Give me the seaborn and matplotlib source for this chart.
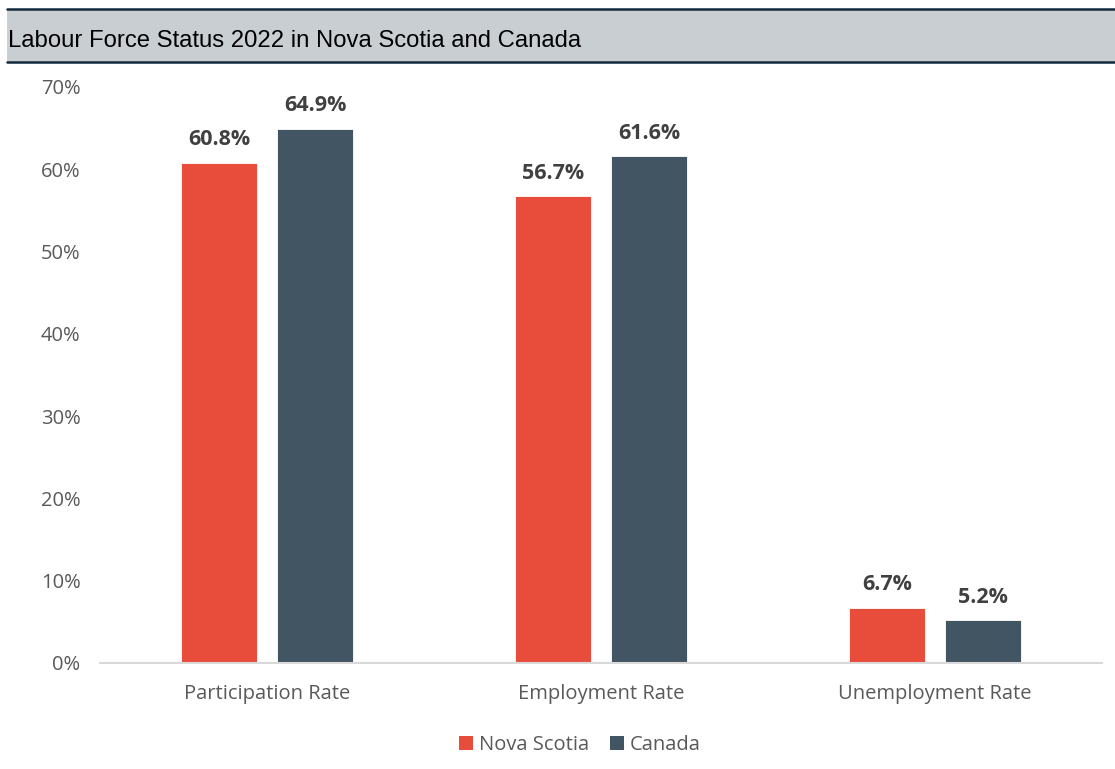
import matplotlib
matplotlib.use("Agg")
import matplotlib.pyplot as plt
from matplotlib.patches import Rectangle, Patch
from matplotlib.lines import Line2D
import pandas as pd
import seaborn as sns

# Labour force rates, 2022 (percent)
categories = ["Participation Rate", "Employment Rate", "Unemployment Rate"]
regions = ["Nova Scotia", "Canada"]
nova_scotia = [60.8, 56.7, 6.7]
canada = [64.9, 61.6, 5.2]
y_ticks = [0, 10, 20, 30, 40, 50, 60, 70]
title = "Labour Force Status 2022 in Nova Scotia and Canada"

palette = {"Nova Scotia": "#E84C3A", "Canada": "#425563"}

df = pd.DataFrame({
    "category": categories * 2,
    "region": [regions[0]] * 3 + [regions[1]] * 3,
    "value": nova_scotia + canada,
})

sns.set_theme(style="white")
plt.rcParams["font.family"] = ["Open Sans", "DejaVu Sans"]

W, H = 1115, 769
fig = plt.figure(figsize=(W / 100, H / 100), dpi=100)
ax = fig.add_axes([100 / W, 1 - 663 / H, 1002 / W, (663 - 87) / H])

sns.barplot(data=df, x="category", y="value", hue="region", order=categories,
            hue_order=regions, palette=palette, width=0.575, gap=0.21,
            saturation=1, errorbar=None, ax=ax, legend=False,
            edgecolor="white", linewidth=0.6)

for cont in ax.containers:
    ax.bar_label(cont, fmt="%.1f%%", padding=9, fontsize=15.5,
                 fontweight="bold", color="#404040")

ax.set_xlim(-0.5, 2.5)
ax.set_ylim(0, 70)
ax.set_yticks(y_ticks)
ax.set_yticklabels([f"{t}%" for t in y_ticks])
ax.set_xlabel("")
ax.set_ylabel("")
for s in ["top", "right", "left"]:
    ax.spines[s].set_visible(False)
ax.spines["bottom"].set_color("#D9D9D9")
ax.spines["bottom"].set_linewidth(1.5)
ax.tick_params(axis="y", length=0, pad=14, labelsize=14.5, labelcolor="#595959")
ax.tick_params(axis="x", length=0, pad=15, labelsize=14.5, labelcolor="#595959")
ax.grid(False)

# Title band
band_x0 = 7 / W
fig.add_artist(Rectangle((band_x0, 1 - 62 / H), 1 - band_x0, 53 / H,
                         transform=fig.transFigure, facecolor="#C9CED3",
                         edgecolor="none", zorder=0))
for yy in (8.5, 62):
    fig.add_artist(Line2D([band_x0, 1], [1 - yy / H, 1 - yy / H],
                          transform=fig.transFigure, color="#102A3C", lw=1.8))
fig.text(8 / W, 1 - 41 / H, title, ha="left", va="center", fontsize=17.2,
         family=["Liberation Sans", "DejaVu Sans"], color="#000000")

handles = [Patch(facecolor=palette[r], edgecolor="none", label=r) for r in regions]
fig.legend(handles=handles, loc="center", bbox_to_anchor=(580 / W, 1 - 745 / H),
           ncol=2, frameon=False, fontsize=14.5, labelcolor="#595959",
           handlelength=0.7, handleheight=0.7, handletextpad=0.3,
           columnspacing=1.0)

fig.savefig("out.png", dpi=100, facecolor="white")
